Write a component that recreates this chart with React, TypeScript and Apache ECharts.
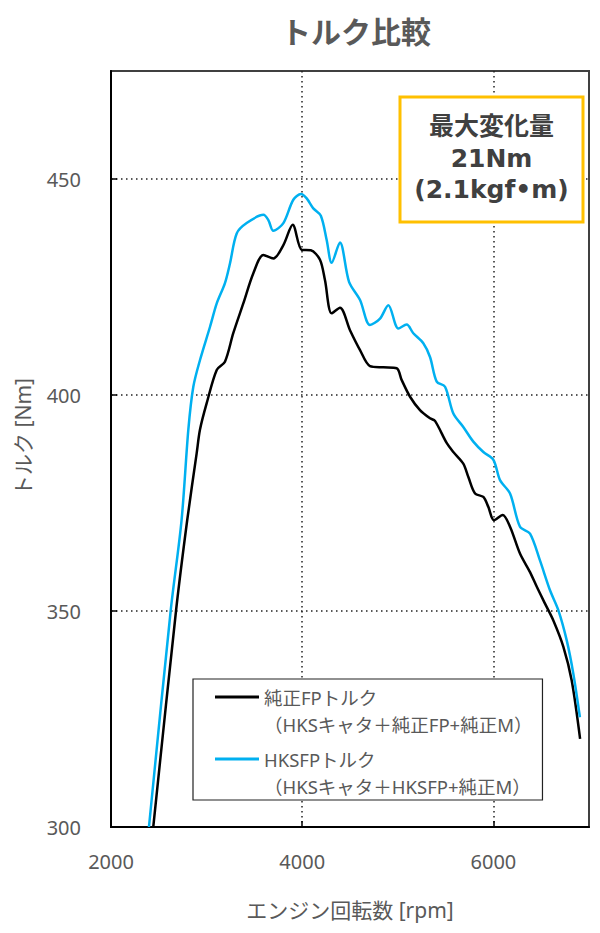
import React, { useEffect, useRef } from 'react';
import * as echarts from 'echarts';

// ---- data ----
const xMin = 2000;
const xMax = 7000;
const xInterval = 2000;
const yMin = 300;
const yMax = 475;
const yInterval = 50;

const stockName = '純正FPトルク\n（HKSキャタ＋純正FP+純正M）';
const hksName = 'HKSFPトルク\n（HKSキャタ＋HKSFP+純正M）';

const stockRpm = [
  2442, 2680, 2797, 2896, 2931, 3001, 3106, 3192, 3279, 3384, 3489, 3594, 3698, 3803, 3901,
  3995, 4090, 4186, 4238, 4308, 4395, 4500, 4605, 4709, 4848, 4988, 5040, 5128, 5232, 5337,
  5389, 5511, 5581, 5685, 5738, 5808, 5895, 5947, 6006, 6097, 6174, 6278, 6383, 6454, 6540,
  6627, 6732, 6819, 6907,
];
const stockTorque = [
  300, 350, 371, 386.5, 392, 398.1, 405.8, 407.7, 414.3, 421.2, 428.2, 432.4, 431.6, 434.7, 439.4,
  433.6, 433.5, 431.3, 426.6, 418.9, 420.2, 415.0, 410.4, 406.7, 406.4, 406.2, 403.5, 399.6, 396.5, 394.6,
  394.0, 388.9, 386.8, 384.1, 381.0, 377.2, 376.4, 374.1, 371.0, 372.2, 369.5, 363.3, 359.0, 355.6, 351.7,
  347.8, 341.7, 333.9, 320.4,
];

const hksRpm = [
  2397, 2624, 2738, 2809, 2861, 2931, 3036, 3106, 3192, 3245, 3315, 3419, 3594, 3646, 3698,
  3803, 3907, 3987, 4047, 4116, 4195, 4256, 4308, 4395, 4490, 4605, 4709, 4814, 4901, 5006,
  5093, 5162, 5267, 5337, 5407, 5494, 5581, 5685, 5790, 5895, 6000, 6069, 6174, 6278, 6383,
  6487, 6592, 6679, 6767, 6836, 6905,
];
const hksTorque = [
  300, 350, 371, 392, 401.9, 408.1, 415.8, 421.2, 425.9, 430.5, 437.4, 439.8, 441.7, 440.5, 438.0,
  439.8, 445.2, 446.5, 445.5, 443.2, 441.5, 435.9, 430.6, 435.3, 426.2, 422.0, 416.2, 417.7, 420.8, 415.4,
  416.3, 414.3, 412.0, 408.8, 403.1, 401.9, 395.7, 392.6, 389.2, 386.8, 385.0, 380.3, 377.2, 369.5, 367.9,
  361.7, 354.8, 350.2, 343.2, 335.5, 325.4,
];

const titleText = 'トルク比較';
const xName = 'エンジン回転数 [rpm]';
const yName = 'トルク [Nm]';
const noteLines = ['最大変化量', '21Nm', '(2.1kgf•m)'];

const stockColor = '#000000';
const hksColor = '#00B0F0';

const FONT = "'Noto Sans', 'Noto Sans CJK JP', sans-serif";
const GRAY = '#595959';

function pairs(xs: number[], ys: number[]) {
  return xs.map((x, i) => [x, ys[i]]);
}

export default function App() {
  const ref = useRef<HTMLDivElement>(null);

  useEffect(() => {
    if (!ref.current) return;
    const chart = echarts.init(ref.current, null, { renderer: 'svg' });
    const option: any = {
      animation: false,
      backgroundColor: '#ffffff',
      title: {
        text: titleText,
        left: 351,
        top: 10,
        textAlign: 'center',
        textStyle: {
          fontFamily: "'Noto Sans CJK JP', sans-serif",
          fontSize: 30,
          fontWeight: 'bold',
          color: GRAY,
        },
      },
      grid: {
        left: 111,
        right: 11,
        top: 71,
        bottom: 106,
        show: true,
        borderColor: '#404040',
        borderWidth: 2,
        backgroundColor: 'transparent',
      },
      xAxis: {
        type: 'value',
        min: xMin,
        max: xMax,
        interval: xInterval,
        name: xName,
        nameLocation: 'middle',
        nameGap: 72,
        nameTextStyle: { fontFamily: FONT, fontSize: 21, color: GRAY },
        axisLine: { show: true, lineStyle: { color: '#000', width: 2 } },
        axisTick: { show: true, inside: true, length: 6, lineStyle: { color: '#000', width: 1.5 } },
        axisLabel: {
          margin: 24,
          fontFamily: FONT,
          fontSize: 20,
          color: GRAY,
          showMaxLabel: false,
          formatter: (v: number) => String(v),
        },
        splitLine: {
          show: true,
          showMinLine: false,
          showMaxLine: false,
          lineStyle: { color: '#222', width: 1.5, type: [1.5, 3.5] },
        },
      },
      yAxis: {
        type: 'value',
        min: yMin,
        max: yMax,
        interval: yInterval,
        name: yName,
        nameLocation: 'middle',
        nameGap: 78,
        nameRotate: 90,
        nameTextStyle: { fontFamily: FONT, fontSize: 21, color: GRAY, padding: [0, 0, 0, 24] },
        axisLine: { show: true, lineStyle: { color: '#000', width: 2 } },
        axisTick: { show: true, inside: true, length: 6, lineStyle: { color: '#000', width: 1.5 } },
        axisLabel: {
          margin: 30,
          fontFamily: FONT,
          fontSize: 20,
          color: GRAY,
          showMaxLabel: false,
          formatter: (v: number) => String(v),
        },
        splitLine: {
          show: true,
          showMinLine: false,
          showMaxLine: false,
          lineStyle: { color: '#222', width: 1.5, type: [1.5, 3.5] },
        },
      },
      legend: {
        orient: 'vertical',
        left: 193,
        top: 679,
        padding: [4.5, 10, 0.5, 22],
        itemGap: 8,
        itemWidth: 44,
        itemHeight: 30,
        symbolKeepAspect: false,
        icon: 'path://M0,0L44,0L44,3L0,3Z M0,29.95L0.05,29.95L0.05,30L0,30Z',
        itemStyle: { borderWidth: 0 },
        backgroundColor: '#ffffff',
        borderColor: '#222',
        borderWidth: 1.2,
        textStyle: { fontFamily: FONT, fontSize: 18.5, lineHeight: 27, color: GRAY },
        data: [stockName, hksName],
      },
      graphic: [
        {
          type: 'rect',
          z: 100,
          shape: { x: 400, y: 97, width: 183, height: 125 },
          style: { fill: '#ffffff', stroke: '#FFC000', lineWidth: 3 },
        },
        {
          type: 'text',
          z: 101,
          x: 491.5,
          y: 158,
          style: {
            text: noteLines.join('\n'),
            fontFamily: "'DejaVu Sans', 'Noto Sans CJK JP', sans-serif",
            fontSize: 25,
            fontWeight: 'bold',
            lineHeight: 31.5,
            fill: '#404040',
            align: 'center',
            verticalAlign: 'middle',
          },
        },
      ],
      series: [
        {
          name: stockName,
          type: 'line',
          data: pairs(stockRpm, stockTorque),
          showSymbol: false,
          symbol: 'none',
          smooth: 0.3,
          color: stockColor,
          lineStyle: { color: stockColor, width: 2.5 },
          z: 3,
        },
        {
          name: hksName,
          type: 'line',
          data: pairs(hksRpm, hksTorque),
          showSymbol: false,
          symbol: 'none',
          smooth: 0.3,
          color: hksColor,
          lineStyle: { color: hksColor, width: 2.5 },
          z: 4,
        },
      ],
    };
    chart.setOption(option);
    return () => chart.dispose();
  }, []);

  return (
    <div
      ref={ref}
      style={{ position: 'absolute', left: 0, top: 0, width: 600, height: 933, background: '#fff' }}
    />
  );
}
